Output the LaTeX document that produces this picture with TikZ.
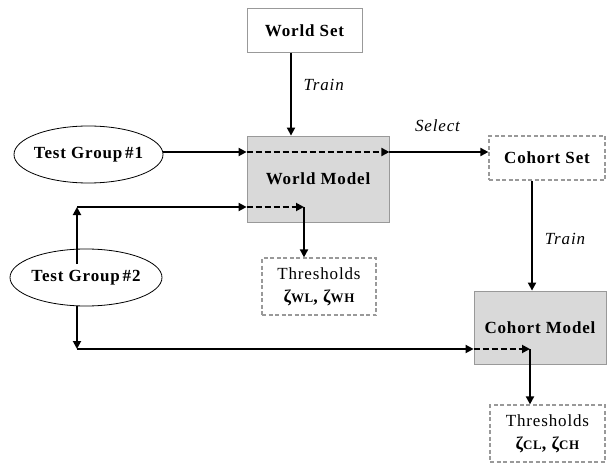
\documentclass[tikz,border=0pt]{standalone}
\usepackage{fontspec}
\setmainfont{Liberation Serif}[LetterSpace=5]
\usetikzlibrary{arrows.meta}
\begin{document}
\begin{tikzpicture}[x=1pt,y=-1pt,
  greybox/.style={draw=black!40,fill=black!15,line width=0.8pt,inner sep=0pt},
  dashbox/.style={draw=black!40,dashed,dash pattern=on 4pt off 2.5pt,line width=1.2pt,inner sep=0pt},
  lbl/.style={font=\fontsize{17}{19}\selectfont\bfseries},
  it/.style={font=\fontsize{17}{19}\selectfont\itshape},
  thr/.style={dashbox,minimum height=57pt,align=center,font=\fontsize{17}{25}\selectfont},
  arr/.style={line width=1.8pt,-{Triangle[length=8pt,width=8pt]}},
  darr/.style={line width=1.8pt,dash pattern=on 6pt off 3pt,-{Triangle[length=8pt,width=8pt]}}]
\newcommand{\zsub}[1]{{\fontsize{13}{15}\selectfont #1}}
\useasboundingbox (0,0) rectangle (607,465);
% nodes
\node[draw=black!40,line width=0.8pt,minimum width=115pt,minimum height=44pt,inner sep=0pt,lbl] (ws) at (304.5,30.3) {World Set};
\node[greybox,minimum width=142pt,minimum height=86pt,lbl] (wm) at (318,179) {World Model};
\node[dashbox,minimum width=116pt,minimum height=44pt,lbl] (cs) at (547,158) {Cohort Set};
\node[greybox,minimum width=132pt,minimum height=73pt,lbl] (cm) at (540,327.5) {Cohort Model};
\node[thr,minimum width=114pt] (th1) at (319,286.5) {Thresholds\\[-2pt]{\fontsize{18}{20}\selectfont\bfseries ζ\zsub{WL}, ζ\zsub{WH}}};
\node[thr,minimum width=115pt] (th2) at (547.5,433.5) {Thresholds\\[-2pt]{\fontsize{18}{20}\selectfont\bfseries ζ\zsub{CL}, ζ\zsub{CH}}};
\draw[line width=0.8pt] (88.5,154.5) ellipse [x radius=74.5, y radius=28.5];
\node[lbl,minimum width=149pt,minimum height=57pt,inner sep=0pt] (t1) at (88.5,154.5) {Test Group\,\#1};
\draw[line width=0.8pt] (86,277.5) ellipse [x radius=76, y radius=28.5];
\node[lbl,minimum width=152pt,minimum height=57pt,inner sep=0pt] (t2) at (86,277.5) {Test Group\,\#2};
% labels
\node[it,anchor=west] (train1) at (300,85) {Train};
\node[it] (sel) at (437.5,126) {Select};
\node[it] (train2) at (565,239) {Train};
% coordinates
\coordinate (up) at (77,207);
\coordinate (dn) at (77,349);
\coordinate (wk) at (304,207);
\coordinate (ck) at (530,349);
\coordinate (r1) at (163,152);
% connectors
\draw[arr] (ws.south -| 291,0) -- (wm.north -| 291,0);
\draw[arr] (r1) -- (wm.west |- r1);
\draw[darr] (wm.west |- r1) -- (wm.east |- r1);
\draw[arr] (wm.east |- r1) -- (cs.west |- r1);
\draw[arr] (cs.south -| 532,0) -- (cm.north -| 532,0);
\draw[arr] (up |- 0,264) -- (up);
\draw[arr] (up) -- (wm.west |- up);
\draw[darr] (wm.west |- up) -- (wk);
\draw[arr] (wk) -- (th1.north -| wk);
\draw[arr] (up |- 0,306) -- (dn);
\draw[arr] (dn) -- (cm.west |- dn);
\draw[darr] (cm.west |- dn) -- (ck);
\draw[arr] (ck) -- (th2.north -| ck);
\end{tikzpicture}
\end{document}
